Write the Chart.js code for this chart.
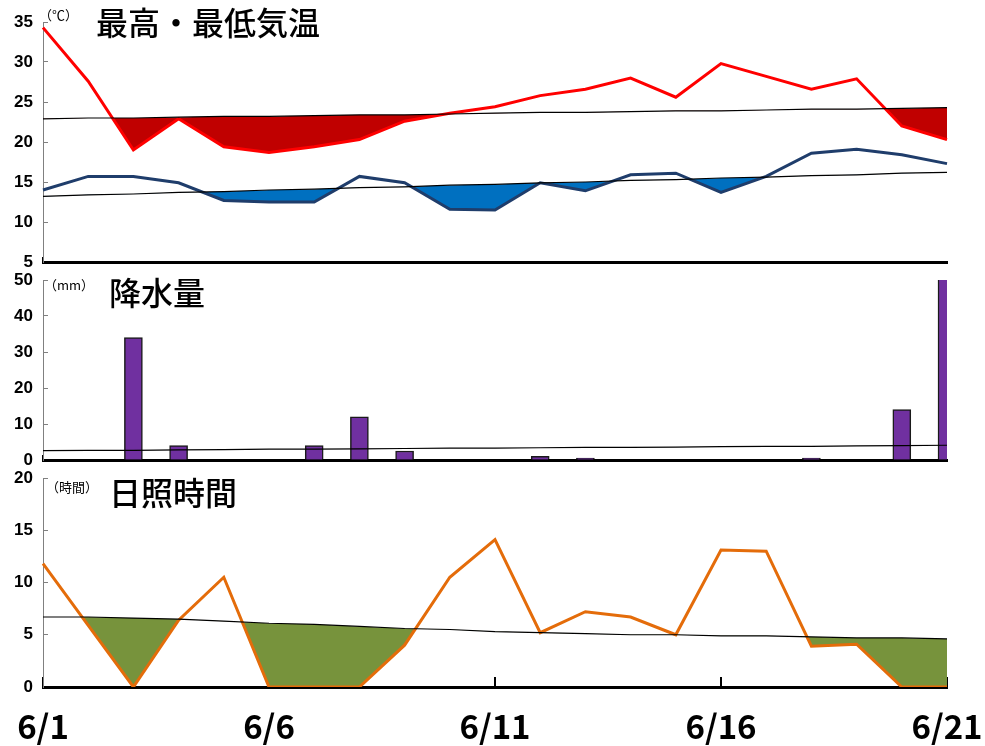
<!DOCTYPE html>
<html>
<head>
<meta charset="utf-8">
<script src="https://cdn.jsdelivr.net/npm/chart.js@4.4.1/dist/chart.umd.min.js"></script>
<style>
  body { margin: 0; background: #fff; }
  #wrap { position: relative; width: 985px; height: 746px; font-family: "Noto Sans CJK JP", sans-serif; }
  canvas { position: absolute; left: 0; }
  .ttl { position: absolute; font-size: 32px; font-weight: 500; line-height: 1; color: #000; white-space: nowrap; z-index: 2; }
  .unit { position: absolute; font-size: 13px; line-height: 1; color: #000; white-space: nowrap; z-index: 2; }
</style>
</head>
<body>
<div id="wrap">
  <canvas id="temp" width="985" height="279" style="top:0"></canvas>
  <canvas id="rain" width="985" height="214" style="top:263px"></canvas>
  <canvas id="sun" width="985" height="285" style="top:461px"></canvas>
  <div class="unit" style="left:39px;top:8px">（℃）</div>
  <div class="ttl" style="left:96px;top:5px">最高・最低気温</div>
  <div class="unit" style="left:44px;top:278px">（mm）</div>
  <div class="ttl" style="left:109px;top:275px">降水量</div>
  <div class="unit" style="left:46px;top:480px">（時間）</div>
  <div class="ttl" style="left:109px;top:475px">日照時間</div>
</div>
<script>
// 6月1日〜21日
const days = ['6/1','6/2','6/3','6/4','6/5','6/6','6/7','6/8','6/9','6/10','6/11',
              '6/12','6/13','6/14','6/15','6/16','6/17','6/18','6/19','6/20','6/21'];
const dateTicks = ['6/1','6/6','6/11','6/16','6/21'];

// 気温 (℃)
const maxTemp   = [34.3,27.6,19.0,22.9,19.4,18.7,19.4,20.3,22.6,23.6,24.4,25.8,26.6,28.0,25.6,29.8,28.2,26.6,27.9,22.0,20.3];
const maxNormal = [22.9,23.0,23.0,23.1,23.2,23.2,23.3,23.4,23.4,23.5,23.6,23.7,23.7,23.8,23.9,23.9,24.0,24.1,24.1,24.2,24.3];
const minTemp   = [14.0,15.7,15.7,14.9,12.7,12.5,12.5,15.7,14.9,11.6,11.5,14.9,13.9,15.9,16.1,13.7,15.7,18.6,19.1,18.4,17.3];
const minNormal = [13.2,13.4,13.5,13.7,13.8,14.0,14.1,14.3,14.4,14.6,14.7,14.9,15.0,15.2,15.3,15.5,15.6,15.8,15.9,16.1,16.2];

// 降水量 (mm)
const rain       = [0,0,34,4,0,0,4,12,2.5,0,0,1,0.5,0,0,0,0,0.5,0,14,55];
const rainNormal = [2.6,2.7,2.7,2.8,2.9,3.0,3.0,3.1,3.2,3.3,3.3,3.4,3.5,3.5,3.6,3.7,3.8,3.8,3.9,4.0,4.1];

// 日照時間 (時間)
const sun       = [11.8,5.9,0,6.4,10.5,0,0,0,4.0,10.5,14.1,5.2,7.2,6.7,5.0,13.1,13.0,3.9,4.1,0,0];
const sunNormal = [6.7,6.7,6.6,6.5,6.3,6.1,6.0,5.8,5.6,5.5,5.3,5.2,5.1,5.0,5.0,4.9,4.9,4.8,4.7,4.7,4.6];

function yScale(min, max, step) {
  return {
    min: min, max: max,
    ticks: { stepSize: step, color: '#000', padding: 15,
             font: { family: 'Liberation Sans', size: 17, weight: 'bold' } },
    // short tick marks pointing into the plot
    grid: { drawOnChartArea: false, tickLength: -5, color: '#808080' },
    border: { display: true, color: '#808080', width: 1 },
    afterFit: function(s) { s.width = 43; s.paddingTop = 0; s.paddingBottom = 0; }
  };
}

function xScale(h, showLabels) {
  return {
    type: 'category', offset: false,
    grid: {
      offset: false, drawOnChartArea: false, lineWidth: 2,
      tickLength: showLabels ? -10 : -5,
      color: function(c) {
        const d = days[c.index];
        const on = showLabels ? dateTicks.includes(d) : c.index === 0;
        return on ? '#000' : 'rgba(0,0,0,0)';
      }
    },
    border: { display: true, color: '#000', width: 3 },
    ticks: {
      display: showLabels, autoSkip: false, maxRotation: 0, padding: 0, color: '#000',
      font: { family: 'Noto Sans CJK JP', size: 33, weight: 'bold', lineHeight: 3.0 },
      callback: function(v, i) { return dateTicks.includes(days[i]) ? days[i] : ''; }
    },
    afterFit: function(s) { s.height = h; }
  };
}

function baseOptions(padTop, xh, showLabels, ymin, ymax, step) {
  return {
    responsive: false, animation: false,
    layout: { padding: { top: padTop, right: 38, left: 0, bottom: 0 } },
    plugins: { legend: { display: false }, tooltip: { enabled: false } },
    elements: { point: { radius: 0 }, line: { tension: 0 } },
    scales: { x: xScale(xh, showLabels), y: yScale(ymin, ymax, step) }
  };
}

function normalLine(data) {
  return { type: 'line', data: data, borderColor: '#000', borderWidth: 1.2, fill: false, order: 0 };
}

new Chart(document.getElementById('temp'), {
  type: 'line',
  data: {
    labels: days,
    datasets: [
      { data: maxTemp, borderColor: '#FF0000', borderWidth: 3, order: 1,
        fill: { target: 1, above: 'rgba(0,0,0,0)', below: '#C00000' } },
      normalLine(maxNormal),
      { data: minTemp, borderColor: '#1F3D6B', borderWidth: 3, order: 1,
        fill: { target: 3, above: 'rgba(0,0,0,0)', below: '#0070C0' } },
      normalLine(minNormal)
    ]
  },
  options: baseOptions(22, 17, false, 5, 35, 5)
});

new Chart(document.getElementById('rain'), {
  data: {
    labels: days,
    datasets: [
      { type: 'bar', data: rain, backgroundColor: '#7030A0', borderColor: '#1a1a1a',
        borderWidth: 1.5, barThickness: 18, order: 1 },
      normalLine(rainNormal)
    ]
  },
  options: baseOptions(17, 17, false, 0, 50, 10)
});

new Chart(document.getElementById('sun'), {
  type: 'line',
  data: {
    labels: days,
    datasets: [
      { data: sun, borderColor: '#E46C0A', borderWidth: 3, order: 1,
        fill: { target: 1, above: 'rgba(0,0,0,0)', below: '#77933C' } },
      normalLine(sunNormal)
    ]
  },
  options: baseOptions(17, 59, true, 0, 20, 5)
});
</script>
</body>
</html>
